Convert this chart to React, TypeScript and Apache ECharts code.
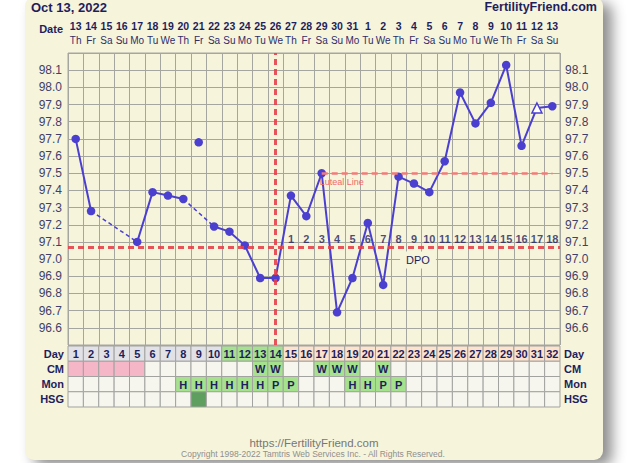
import React, { useEffect, useRef } from "react";
import * as echarts from "echarts";

const cycleDays = ["1","2","3","4","5","6","7","8","9","10","11","12","13","14","15","16","17","18","19","20","21","22","23","24","25","26","27","28","29","30","31","32"];
const dates = ["13","14","15","16","17","18","19","20","21","22","23","24","25","26","27","28","29","30","31","1","2","3","4","5","6","7","8","9","10","11","12","13"];
const weekdays = ["Th","Fr","Sa","Su","Mo","Tu","We","Th","Fr","Sa","Su","Mo","Tu","We","Th","Fr","Sa","Su","Mo","Tu","We","Th","Fr","Sa","Su","Mo","Tu","We","Th","Fr","Sa","Su"];
const temps: (number | null)[] = [97.70, 97.28, null, null, 97.10, 97.39, 97.37, 97.35, 97.68, 97.19, 97.16, 97.08, 96.89, 96.89, 97.37, 97.25, 97.50, 96.69, 96.89, 97.21, 96.85, 97.48, 97.44, 97.39, 97.57, 97.97, 97.79, 97.91, 98.13, 97.66, 97.88, 97.89];
const discardedDays = [9];
const altTimeDays = [31];
const coverline = 97.07;
const ovulationDay = 14;
const lutealLine = 97.5;
const lutealStartDay = 17;
const dpo: (number | null)[] = [null,null,null,null,null,null,null,null,null,null,null,null,null,null,1,2,3,4,5,6,7,8,9,10,11,12,13,14,15,16,17,18];
const phases = ["F","F","F","F","F","F","F","F","F","F","W","W","W","W","L","L","L","L","L","L","L","L","L","L","L","L","L","L","L","L","L","L"];
const cm = ["M","M","M","M","M","","","","","","","","W","W","","","W","W","W","","W","","","","","","","","","","",""];
const mon = ["","","","","","","","H","H","H","H","H","H","P","P","","","","H","H","P","P","","","","","","","","","",""];
const hsg = ["","","","","","","","","X","","","","","","","","","","","","","","","","","","","","","","",""];
const tableRows = ["Day", "CM", "Mon", "HSG"];

const FONT = '"Liberation Sans", Arial, sans-serif';
const NAVY = "#1e1e5e";
const AXIS_TXT = "#3f3f6c";
const LINE = "#4b3fd0";
const RED = "#e5414b";
const PINKLINE = "#f27b7b";
const CREAM = "#f6f4db";
const GRIDC = "#a6a6a0";
const DPO_Y = 97.12;

export default function App() {
  const ref = useRef<HTMLDivElement>(null);
  useEffect(() => {
    if (!ref.current) return;
    const chart = echarts.init(ref.current, null, { renderer: "svg" });

    const kept = temps.map((t, i) => (discardedDays.includes(i + 1) ? null : t));
    const mainData = kept.map((t, i) => {
      if (t == null) return "-";
      if (altTimeDays.includes(i + 1))
        return { value: t, symbol: "triangle", symbolSize: 10, itemStyle: { color: "#ffffff", borderColor: LINE, borderWidth: 1.5 } };
      return t;
    });
    const bridges: number[][] = [];
    let last = -1;
    kept.forEach((t, i) => {
      if (t != null) {
        if (last >= 0 && i - last > 1) bridges.push([last, i]);
        last = i;
      }
    });
    const bridgeSeries = bridges.map(([a, b]) => ({
      type: "line",
      xAxisIndex: 0,
      yAxisIndex: 0,
      connectNulls: true,
      symbol: "none",
      z: 3,
      lineStyle: { color: LINE, width: 1.5, type: [4, 3] },
      data: kept.map((t, i) => (i === a || i === b ? t : "-")),
    }));
    const discardedData = discardedDays.map((d) => [d - 1, temps[d - 1]]);

    const fills: Record<string, string> = {
      F: "#e2e2e6",
      W: "#a6e28e",
      L: "#fde2cc",
      M: "#f5b6c8",
      G: "#a6e28e",
      X: "#5e9e5e",
      E: "#f6f6ee",
    };
    const cells: { text: string; fill: string }[] = [];
    const cellData: number[][] = [];
    for (let r = 0; r < 4; r++) {
      for (let i = 0; i < 32; i++) {
        let text = "";
        let fill = fills.E;
        if (r === 0) {
          text = cycleDays[i];
          fill = fills[phases[i]];
        } else if (r === 1) {
          if (cm[i] === "M") fill = fills.M;
          else if (cm[i]) { fill = fills.G; text = cm[i]; }
        } else if (r === 2) {
          if (mon[i]) { fill = fills.G; text = mon[i]; }
        } else {
          if (hsg[i]) fill = fills.X;
        }
        cells.push({ text, fill });
        cellData.push([i, r]);
      }
    }

    const option: any = {
      animation: false,
      backgroundColor: "transparent",
      textStyle: { fontFamily: FONT },
      grid: [
        { left: 68, right: 80, top: 53, height: 292, show: true, borderColor: GRIDC, borderWidth: 1, backgroundColor: "transparent" },
        { left: 68, right: 80, top: 346, height: 61 },
      ],
      xAxis: [
        {
          type: "category", gridIndex: 0, data: cycleDays, boundaryGap: true, position: "bottom",
          axisLine: { show: false }, axisTick: { show: false }, axisLabel: { show: false },
          splitLine: { show: true, interval: 0, lineStyle: { color: GRIDC, width: 1 } },
        },
        {
          type: "category", gridIndex: 0, data: dates, boundaryGap: true, position: "top",
          axisLine: { show: false }, axisTick: { show: false }, splitLine: { show: false },
          axisLabel: {
            interval: 0, margin: 5,
            formatter: (v: string, i: number) => `{d|${v}}\n{w|${weekdays[i]}}`,
            rich: {
              d: { fontFamily: FONT, fontWeight: "bold", fontSize: 10.5, color: NAVY, lineHeight: 15 },
              w: { fontFamily: FONT, fontSize: 10, color: "#2e2e6a", lineHeight: 15 },
            },
          },
        },
        {
          type: "category", gridIndex: 1, data: cycleDays, boundaryGap: true,
          axisLine: { show: false }, axisTick: { show: false }, axisLabel: { show: false }, splitLine: { show: false },
        },
      ],
      yAxis: [
        {
          type: "value", gridIndex: 0, min: 96.5, max: 98.2, interval: 0.1, position: "left",
          axisLine: { show: false }, axisTick: { show: false },
          splitLine: { show: true, lineStyle: { color: GRIDC, width: 1 } },
          axisLabel: {
            margin: 6, fontFamily: FONT, fontSize: 12, color: AXIS_TXT,
            formatter: (v: number) => (v < 96.55 || v > 98.15 ? "" : v.toFixed(1)),
          },
        },
        {
          type: "value", gridIndex: 0, min: 96.5, max: 98.2, interval: 0.1, position: "right",
          axisLine: { show: false }, axisTick: { show: false }, splitLine: { show: false },
          axisLabel: {
            margin: 5, fontFamily: FONT, fontSize: 12, color: AXIS_TXT,
            formatter: (v: number) => (v < 96.55 || v > 98.15 ? "" : v.toFixed(1)),
          },
        },
        {
          type: "category", gridIndex: 1, data: tableRows, inverse: true, position: "left",
          axisLine: { show: false }, axisTick: { show: false }, splitLine: { show: false },
          axisLabel: { margin: 4, fontFamily: FONT, fontSize: 11, fontWeight: "bold", color: NAVY },
        },
        {
          type: "category", gridIndex: 1, data: tableRows, inverse: true, position: "right",
          axisLine: { show: false }, axisTick: { show: false }, splitLine: { show: false },
          axisLabel: { margin: 4, fontFamily: FONT, fontSize: 11, fontWeight: "bold", color: NAVY },
        },
      ],
      series: [
        {
          type: "line", xAxisIndex: 0, yAxisIndex: 0, silent: true, z: 1,
          symbol: "none", data: cycleDays.map(() => "-"),
          markLine: {
            silent: true, symbol: "none", animation: false,
            label: { show: false },
            data: [
              { yAxis: coverline, lineStyle: { color: RED, type: [6, 4], width: 3, opacity: 0.9 } },
              { xAxis: ovulationDay - 1, lineStyle: { color: RED, type: [6, 4], width: 3, opacity: 0.9 } },
              [
                {
                  coord: [lutealStartDay - 1, lutealLine],
                  lineStyle: { color: PINKLINE, type: [6, 4], width: 2.5 },
                  label: { show: true, formatter: "Luteal Line", position: "insideStartBottom", distance: [-2, 4], color: "#f06a6a", fontSize: 9, fontFamily: FONT },
                },
                { coord: [cycleDays.length - 1, lutealLine] },
              ],
            ],
          },
        },
        {
          type: "scatter", xAxisIndex: 0, yAxisIndex: 0, z: 2, silent: true,
          symbolSize: 1, itemStyle: { color: "transparent" },
          data: dpo.map((d, i) => (d == null ? null : { name: String(d), value: [i, DPO_Y] })).filter((x) => x),
          label: { show: true, position: "inside", formatter: "{b}", color: NAVY, fontWeight: "bold", fontSize: 11, fontFamily: FONT },
        },
        ...bridgeSeries,
        {
          type: "line", xAxisIndex: 0, yAxisIndex: 0, z: 4,
          connectNulls: false, symbol: "circle", symbolSize: 8.5,
          lineStyle: { color: LINE, width: 2 }, itemStyle: { color: LINE },
          data: mainData,
        },
        {
          type: "scatter", xAxisIndex: 0, yAxisIndex: 0, z: 4,
          symbol: "circle", symbolSize: 8.5, itemStyle: { color: LINE, opacity: 1 },
          data: discardedData,
        },
        {
          type: "custom", xAxisIndex: 2, yAxisIndex: 2, coordinateSystem: "cartesian2d", silent: true,
          encode: { x: 0, y: 1 },
          data: cellData,
          renderItem: (params: any, api: any) => {
            const c = cells[params.dataIndex];
            const p = api.coord([api.value(0), api.value(1)]);
            const s = api.size([1, 1]);
            return {
              type: "group",
              children: [
                {
                  type: "rect",
                  shape: { x: p[0] - s[0] / 2, y: p[1] - s[1] / 2, width: s[0], height: s[1] },
                  style: { fill: c.fill, stroke: "#a2a2a0", lineWidth: 1 },
                },
                {
                  type: "text",
                  style: {
                    text: c.text, x: p[0], y: p[1] + 0.5,
                    textAlign: "center", textVerticalAlign: "middle",
                    fill: NAVY, font: `bold 11px ${FONT}`,
                  },
                },
              ],
            };
          },
        },
      ],
      graphic: [
        { type: "text", x: 31, y: 7, style: { text: "Oct 13, 2022", font: `bold 13px ${FONT}`, fill: NAVY, textAlign: "left", textVerticalAlign: "middle" } },
        { type: "text", x: 597, y: 7, style: { text: "FertilityFriend.com", font: `bold 12.5px ${FONT}`, fill: NAVY, textAlign: "right", textVerticalAlign: "middle" } },
        { type: "text", x: 63, y: 29, style: { text: "Date", font: `bold 11px ${FONT}`, fill: NAVY, textAlign: "right", textVerticalAlign: "middle" } },
        { type: "text", x: 418, y: 260, z: 10, style: { text: "DPO", font: `11px ${FONT}`, fill: NAVY, textAlign: "center", textVerticalAlign: "middle", backgroundColor: CREAM, padding: [3, 6] } },
        { type: "text", x: 314, y: 443, style: { text: "https://FertilityFriend.com", font: `11.5px ${FONT}`, fill: "#777777", textAlign: "center", textVerticalAlign: "middle" } },
        { type: "text", x: 313, y: 454, style: { text: "Copyright 1998-2022 Tamtris Web Services Inc. - All Rights Reserved.", font: `8.5px ${FONT}`, fill: "#8f8f8f", textAlign: "center", textVerticalAlign: "middle" } },
      ],
    };
    chart.setOption(option);
    return () => chart.dispose();
  }, []);

  return (
    <div style={{ position: "fixed", left: 0, top: 0, width: 640, height: 463, background: "#ffffff", overflow: "hidden" }}>
      <div style={{ position: "absolute", left: 25, top: -3, width: 578, height: 463, background: CREAM, borderRadius: 9, boxShadow: "9px 6px 14px rgba(0,0,0,0.45)" }} />
      <div ref={ref} style={{ position: "absolute", left: 0, top: 0, width: 640, height: 463 }} />
    </div>
  );
}
